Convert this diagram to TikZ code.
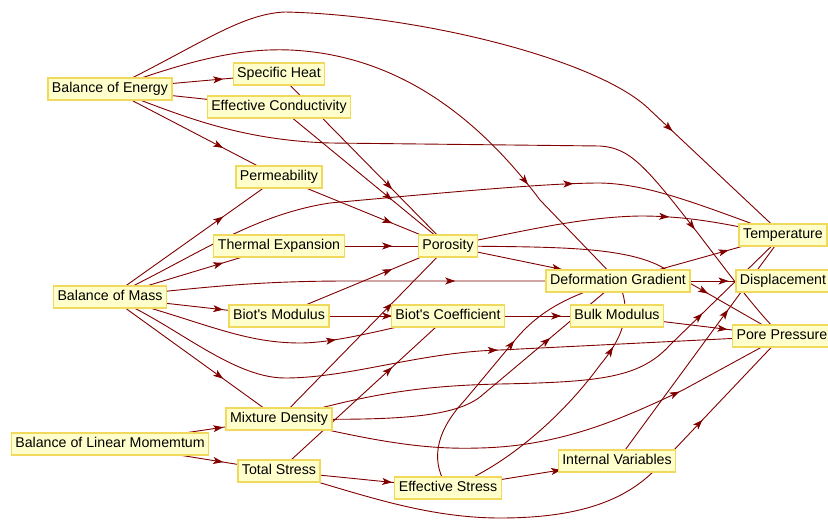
\documentclass[tikz,border=0pt]{standalone}
\usepackage{fontspec}
\setmainfont{Liberation Sans}
\usetikzlibrary{arrows.meta,decorations.markings,backgrounds}
\definecolor{edgec}{rgb}{0.5,0,0}
\definecolor{vfill}{rgb}{1,1,0.8}
\definecolor{vframe}{rgb}{0.94,0.85,0.36}
\tikzset{
  vbox/.style={rectangle, draw=vframe, fill=vfill, line width=1.3pt, inner xsep=4pt, inner ysep=4.25pt,
    text height=10.5pt, text depth=3pt, font=\fontsize{14.2}{16}\selectfont, text=black},
  edge/.style={color=edgec, line width=0.9pt},
  am/.style={postaction={decorate}, decoration={markings, mark=at position #1 with {\arrow{Stealth[length=10pt,width=7pt,inset=2.5pt]}}}}
}
\begin{document}
\begin{tikzpicture}[x=1pt,y=-1pt]
\useasboundingbox (0,0) rectangle (828,521);
\begin{scope}
\clip (0,0) rectangle (828,521);
\node[vbox] (boe) at (110,89) {Balance of Energy};
\node[vbox] (sh) at (279,74) {Specific Heat};
\node[vbox] (ec) at (279,107) {Effective Conductivity};
\node[vbox] (perm) at (279,177) {Permeability};
\node[vbox] (te) at (279,246) {Thermal Expansion};
\node[vbox] (por) at (448,246) {Porosity};
\node[vbox] (bom) at (110,297) {Balance of Mass};
\node[vbox] (bmod) at (279,316) {Biot\textquotesingle s Modulus};
\node[vbox] (bcoef) at (448,316) {Biot\textquotesingle s Coefficient};
\node[vbox] (dg) at (618,281) {Deformation Gradient};
\node[vbox] (bulk) at (617,316) {Bulk Modulus};
\node[vbox] (temp) at (783,235) {Temperature};
\node[vbox] (disp) at (783,281) {Displacement};
\node[vbox] (pp) at (782,336) {Pore Pressure};
\node[vbox] (md) at (279,419) {Mixture Density};
\node[vbox] (bolm) at (110,444) {Balance of Linear Momemtum};
\node[vbox] (ts) at (279,471) {Total Stress};
\node[vbox] (es) at (448,488) {Effective Stress};
\node[vbox] (iv) at (617,461) {Internal Variables};
\end{scope}
\begin{pgfonlayer}{background}
\fill[white] (0,0) rectangle (828,521);
% Balance of Energy
\draw[edge, am=0.67] (boe.center) -- (sh.center);
\draw[edge, am=0.67] (boe.center) -- (ec.center);
\draw[edge, am=0.67] (boe.center) -- (perm.center);
\draw[edge, am=0.80] (boe.center) .. controls (200,45) and (240,14) .. (285,12) .. controls (420,15) and (600,60) .. (650,110) -- (temp.center);
\draw[edge, am=0.78] (boe.center) .. controls (190,60) and (240,48) .. (290,50) .. controls (400,55) and (480,120) .. (540,200) -- (dg.center);
\draw[edge, am=0.82] (boe.center) .. controls (170,110) and (230,140) .. (330,143) -- (600,146) .. controls (630,148) and (645,165) .. (700,236) .. controls (735,282) and (760,315) .. (pp.center);
% Balance of Mass
\draw[edge, am=0.67] (bom.center) -- (perm.center);
\draw[edge, am=0.69] (bom.center) .. controls (190,260) and (250,215) .. (330,203) .. controls (450,192) and (550,183) .. (600,183) .. controls (650,184) and (700,205) .. (temp.center);
\draw[edge, am=0.67] (bom.center) -- (te.center);
\draw[edge, am=0.68] (bom.center) .. controls (200,288) and (250,281) .. (350,281) -- (dg.center);
\draw[edge, am=0.67] (bom.center) -- (bmod.center);
\draw[edge, am=0.67] (bom.center) .. controls (200,320) and (240,343) .. (300,343) .. controls (340,343) and (400,325) .. (bcoef.center);
\draw[edge, am=0.59] (bom.center) .. controls (170,320) and (230,378) .. (285,378) .. controls (350,378) and (420,352) .. (500,350) -- (pp.center);
\draw[edge, am=0.67] (bom.center) -- (md.center);
% second layer
\draw[edge, am=0.67] (sh.center) -- (por.center);
\draw[edge, am=0.67] (ec.center) -- (por.center);
\draw[edge, am=0.67] (perm.center) -- (por.center);
\draw[edge, am=0.67] (te.center) -- (por.center);
\draw[edge, am=0.67] (bmod.center) -- (por.center);
\draw[edge, am=0.67] (bmod.center) -- (bcoef.center);
\draw[edge, am=0.67] (md.center) -- (por.center);
\draw[edge, am=0.67] (ts.center) -- (bcoef.center);
% Porosity
\draw[edge, am=0.66] (por.center) .. controls (520,232) and (580,217) .. (640,216) .. controls (700,216) and (740,228) .. (temp.center);
\draw[edge, am=0.67] (por.center) -- (dg.center);
\draw[edge, am=0.76] (por.center) .. controls (550,247) and (620,246) .. (660,266) -- (pp.center);
% fourth layer
\draw[edge, am=0.67] (dg.center) -- (temp.center);
\draw[edge, am=0.67] (dg.center) -- (disp.center);
\draw[edge, am=0.67] (bcoef.center) -- (bulk.center);
\draw[edge, am=0.67] (bulk.center) -- (pp.center);
% Mixture Density
\draw[edge, am=0.77] (md.center) .. controls (380,420) and (450,420) .. (480,397) -- (dg.center);
\draw[edge, am=0.80] (md.center) .. controls (350,400) and (400,386) .. (500,384) .. controls (600,382) and (640,378) .. (670,345) -- (temp.center);
\draw[edge, am=0.78] (md.center) .. controls (370,440) and (420,450) .. (480,448) .. controls (560,446) and (620,420) .. (683,390) -- (pp.center);
% Balance of Linear Momemtum
\draw[edge, am=0.67] (bolm.center) -- (md.center);
\draw[edge, am=0.67] (bolm.center) -- (ts.center);
% Total Stress
\draw[edge, am=0.67] (ts.center) -- (es.center);
\draw[edge, am=0.80] (ts.center) .. controls (350,490) and (420,518) .. (500,518) .. controls (580,518) and (625,500) .. (655,470) -- (pp.center);
% Effective Stress
\draw[edge, am=0.67] (es.center) -- (iv.center);
\draw[edge, am=0.59] (es.center) .. controls (432,465) and (432,435) .. (465,400) -- (515,340) .. controls (540,310) and (570,295) .. (dg.center);
\draw[edge, am=0.76] (es.center) .. controls (500,470) and (560,420) .. (600,365) .. controls (625,335) and (632,310) .. (dg.center);
% Internal Variables
\draw[edge, am=0.67] (iv.center) -- (temp.center);
\end{pgfonlayer}
\end{tikzpicture}
\end{document}
